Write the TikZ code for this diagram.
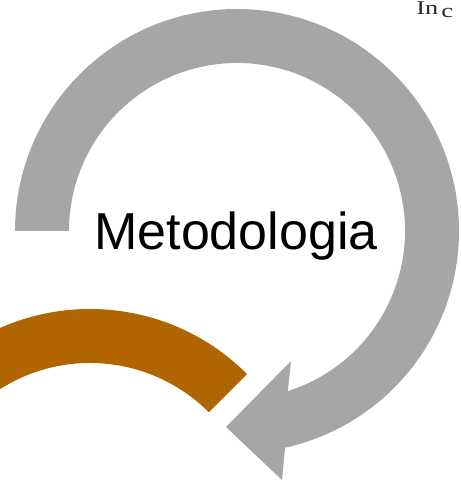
\documentclass[tikz,border=0pt]{standalone}
\usepackage{fontspec}
\setmainfont{Liberation Serif}
\newfontfamily\arialfont{Liberation Sans}
\usetikzlibrary{calc}
\definecolor{arrowgray}{RGB}{166,166,166}
\definecolor{ochre}{RGB}{176,101,0}
\tikzset{
  ringgray/.style={fill=arrowgray, draw=none},
  ringochre/.style={fill=ochre, draw=none},
  bigtext/.style={font=\arialfont\fontsize{52}{60}\selectfont, inner sep=0pt, anchor=base},
  smalltext/.style={font=\fontsize{19.5}{22}\selectfont, inner sep=0pt, anchor=base west, text=black!85}
}
\begin{document}
\begin{tikzpicture}[x=1pt,y=1pt]
\useasboundingbox (0,0) rectangle (460,481);
\clip (0,0) rectangle (460,481);
\coordinate (C) at (237,250);
\coordinate (O) at (90,-50);
% ochre arc
\fill[ringochre] ($(O)+(45:222)$) arc[start angle=45, end angle=170, radius=222]
  -- ($(O)+(170:168)$) arc[start angle=170, end angle=45, radius=168] -- cycle;
% gray circular arrow
\coordinate (bb) at (282,1);
\coordinate (tip) at (226,54);
\coordinate (bt) at (291,120);
\fill[ringgray] ($(C)+(180:222)$) arc[start angle=180, end angle=-77.5, radius=222]
  -- (bb) -- (tip) -- (bt) -- ($(C)+(-72.4:168)$)
  arc[start angle=-72.4, end angle=180, radius=168] -- cycle;
\node[bigtext] (title) at (236,231) {Metodologia};
\node[smalltext, xscale=1.35] (inc) at (416,466) {In};
\node[smalltext, xscale=1.35] (c) at (441,463) {c};
\end{tikzpicture}
\end{document}
